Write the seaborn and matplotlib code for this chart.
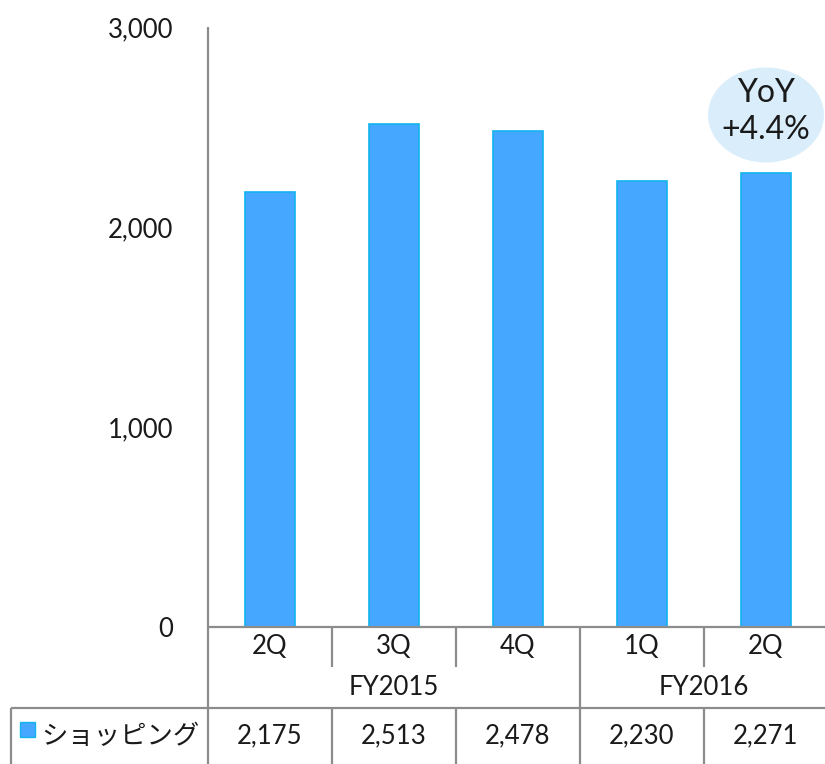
import matplotlib
matplotlib.use("Agg")
import matplotlib.pyplot as plt
import pandas as pd
import seaborn as sns
from matplotlib.patches import Ellipse, Rectangle
from matplotlib.ticker import FuncFormatter

# data
quarters = ["2Q", "3Q", "4Q", "1Q", "2Q"]
fiscal_years = ["FY2015", "FY2015", "FY2015", "FY2016", "FY2016"]
shopping = [2175, 2513, 2478, 2230, 2271]
series_name = "ショッピング"
y_ticks = [0, 1000, 2000, 3000]

BAR_COLOR = "#45A7FF"
EDGE_COLOR = "#12B4EE"
LINE_COLOR = "#8C8C8C"
BUBBLE_COLOR = "#D9EDFB"
TEXT_COLOR = "#1A1A1A"
FS = 18.5

sns.set_style("white")
plt.rcParams["font.family"] = ["Lato", "Noto Sans CJK JP"]

df = pd.DataFrame({
    "period": [f"{fy} {q}" for fy, q in zip(fiscal_years, quarters)],
    "value": shopping,
})

W, H = 825, 764
fig = plt.figure(figsize=(W / 100, H / 100), dpi=100)
ax = fig.add_axes([208 / W, 1 - 627 / H, 620 / W, 600 / H])

sns.barplot(data=df, x="period", y="value", color=BAR_COLOR, saturation=1,
            width=0.41, edgecolor=EDGE_COLOR, linewidth=1.2, ax=ax)

n = len(df)
ax.set_xlim(-0.5, n - 0.5)
ax.set_ylim(0, 3000)
ax.set_yticks(y_ticks)
ax.yaxis.set_major_formatter(FuncFormatter(lambda v, _: f"{v:,.0f}"))
ax.tick_params(axis="y", length=0, pad=25, labelsize=FS, labelcolor=TEXT_COLOR)
ax.set_xticks([])
ax.set_xlabel("")
ax.set_ylabel("")
for s in ax.spines.values():
    s.set_visible(False)

# table below the axis (x in data units, y in axes fraction)
tr = ax.get_xaxis_transform()
r0, r1, r2, r3 = 0.0, -40 / 600, -81 / 600, -137 / 600
x_left = -0.5 + (11 - 208) / 124
lkw = dict(color=LINE_COLOR, lw=1.6, transform=tr, clip_on=False, solid_capstyle="butt")

ax.plot([-0.5, -0.5], [1, r3], **lkw)
ax.plot([-0.5, n - 0.5], [r0, r0], **lkw)
ax.plot([x_left, n - 0.5], [r2, r2], **lkw)
ax.plot([x_left, x_left], [r2, r3], **lkw)
for i in range(n - 1):
    b = i + 0.5
    ax.plot([b, b], [r0, r1], **lkw)
    ax.plot([b, b], [r2, r3], **lkw)
    if fiscal_years[i] != fiscal_years[i + 1]:
        ax.plot([b, b], [r1, r2], **lkw)

for i, (q, v) in enumerate(zip(quarters, shopping)):
    ax.text(i, (r0 + r1) / 2, q, transform=tr, ha="center", va="center",
            fontsize=FS, color=TEXT_COLOR)
    ax.text(i, (r2 + r3) / 2, f"{v:,}", transform=tr, ha="center", va="center",
            fontsize=FS, color=TEXT_COLOR)

for fy in dict.fromkeys(fiscal_years):
    idx = [i for i, f in enumerate(fiscal_years) if f == fy]
    ax.text(sum(idx) / len(idx), (r1 + r2) / 2, fy, transform=tr, ha="center",
            va="center", fontsize=FS, color=TEXT_COLOR)

# legend cell
fig.patches.append(Rectangle((20 / W, 1 - 737 / H), 15 / W, 15 / H, transform=fig.transFigure,
                             facecolor=BAR_COLOR, edgecolor=EDGE_COLOR, lw=1))
fig.text(41 / W, 1 - 736 / H, series_name, ha="left", va="center", fontsize=19, color=TEXT_COLOR)

# YoY bubble
yoy = (shopping[-1] / shopping[0] - 1) * 100
ax.add_patch(Ellipse((n - 1, 2560), width=0.935, height=475, facecolor=BUBBLE_COLOR,
                     edgecolor="none", zorder=3))
ax.text(n - 1, 2670, "YoY", ha="center", va="center", fontsize=23, color=TEXT_COLOR, zorder=4)
ax.text(n - 1, 2485, f"+{yoy:.1f}%", ha="center", va="center", fontsize=23,
        color=TEXT_COLOR, zorder=4)

fig.savefig("out.png", dpi=100)
